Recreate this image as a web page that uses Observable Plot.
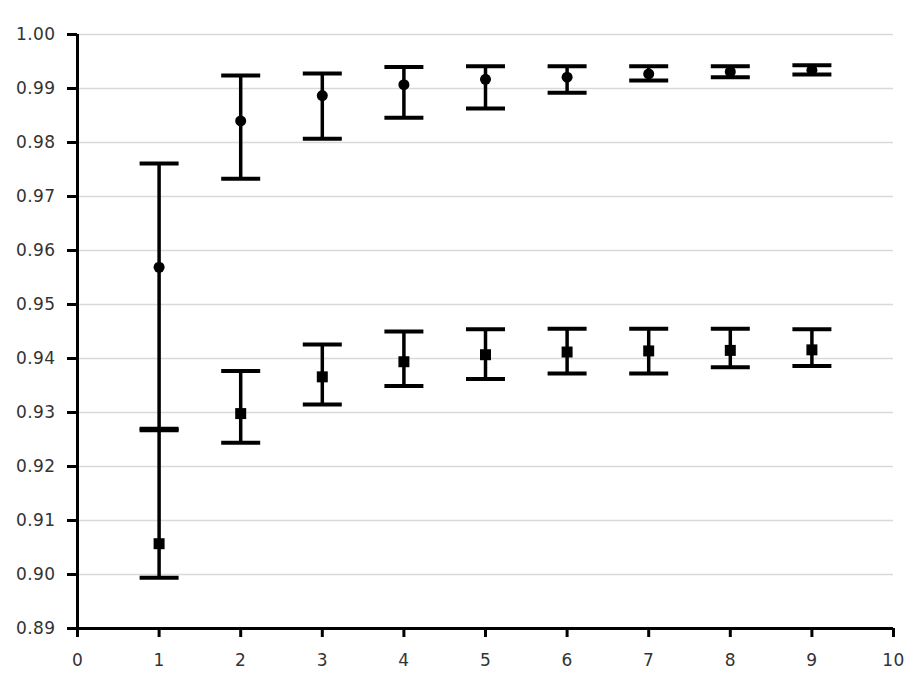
<!DOCTYPE html>
<html>
<head>
<meta charset="utf-8">
<script src="https://cdn.jsdelivr.net/npm/d3@7"></script>
<script src="https://cdn.jsdelivr.net/npm/@observablehq/plot@0.6"></script>
<style>
  html, body { margin: 0; padding: 0; background: #fff; }
  #chart svg { display: block; }
  #chart svg text { font-size: 17px; font-family: 'DejaVu Sans', sans-serif; letter-spacing: 0.4px; }
</style>
</head>
<body>
<div id="chart"></div>
<script>
const xs = [1, 2, 3, 4, 5, 6, 7, 8, 9];
const circleMean = [0.9569, 0.9840, 0.9887, 0.9907, 0.9917, 0.9921, 0.9927, 0.9931, 0.9934];
const circleLow  = [0.9270, 0.9733, 0.9807, 0.9846, 0.9863, 0.9892, 0.9915, 0.9921, 0.9926];
const circleHigh = [0.9761, 0.9924, 0.9928, 0.9940, 0.9941, 0.9941, 0.9941, 0.9941, 0.9943];
const squareMean = [0.9057, 0.9298, 0.9366, 0.9394, 0.9407, 0.9412, 0.9414, 0.9415, 0.9416];
const squareLow  = [0.8994, 0.9244, 0.9315, 0.9349, 0.9362, 0.9372, 0.9372, 0.9384, 0.9386];
const squareHigh = [0.9267, 0.9377, 0.9426, 0.9450, 0.9454, 0.9455, 0.9455, 0.9455, 0.9454];
const xTicks = [0, 1, 2, 3, 4, 5, 6, 7, 8, 9, 10];
const yTicks = [0.89, 0.90, 0.91, 0.92, 0.93, 0.94, 0.95, 0.96, 0.97, 0.98, 0.99, 1.00];

const rows = [];
xs.forEach((x, i) => {
  rows.push({series: "circle", x, mean: circleMean[i], low: circleLow[i], high: circleHigh[i]});
  rows.push({series: "square", x, mean: squareMean[i], low: squareLow[i], high: squareHigh[i]});
});
const circles = rows.filter(d => d.series === "circle");
const squares = rows.filter(d => d.series === "square");

// horizontal line symbol for error bar caps
const capSymbol = {
  draw(ctx, size) {
    const h = Math.sqrt(size / Math.PI);
    ctx.moveTo(-h, 0);
    ctx.lineTo(h, 0);
  }
};

const font = "'DejaVu Sans', sans-serif";

const chart = Plot.plot({
  width: 921,
  height: 676,
  marginTop: 34,
  marginBottom: 48,
  marginLeft: 77,
  marginRight: 28,
  style: {fontFamily: font, fontSize: "17px", color: "#333", background: "#fff"},
  x: {domain: [0, 10]},
  y: {domain: [0.89, 1.00]},
  marks: [
    Plot.ruleY(yTicks.filter(v => v > 0.89), {stroke: "#d9d9d9", strokeWidth: 1.5}),
    Plot.ruleX([0], {stroke: "#000", strokeWidth: 3}),
    Plot.ruleY([0.89], {stroke: "#000", strokeWidth: 3}),
    Plot.axisY({ticks: yTicks, tickFormat: d3.format(".2f"), tickSize: 10, tickPadding: 12,
      stroke: "#000", strokeWidth: 3, label: null, fill: "#333"}),
    Plot.axisX({ticks: xTicks, tickFormat: d3.format("d"), tickSize: 9, tickPadding: 16,
      stroke: "#000", strokeWidth: 3, label: null, fill: "#333"}),
    Plot.ruleX(rows, {x: "x", y1: "low", y2: "high", stroke: "#000", strokeWidth: 3.5}),
    Plot.dot(rows, {x: "x", y: "high", symbol: capSymbol, r: 19.5, stroke: "#000", strokeWidth: 4, fill: "none"}),
    Plot.dot(rows, {x: "x", y: "low", symbol: capSymbol, r: 19.5, stroke: "#000", strokeWidth: 4, fill: "none"}),
    Plot.dot(circles, {x: "x", y: "mean", symbol: "circle", r: 5.5, fill: "#000", stroke: "none"}),
    Plot.dot(squares, {x: "x", y: "mean", symbol: "square", r: 6.2, fill: "#000", stroke: "none"})
  ]
});
document.getElementById("chart").appendChild(chart);
</script>
</body>
</html>
